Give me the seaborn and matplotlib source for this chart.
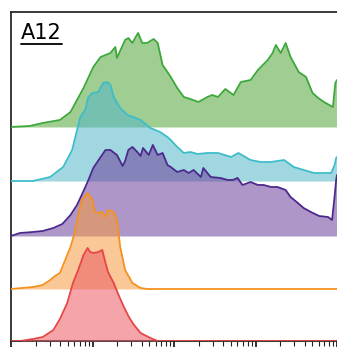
import matplotlib
matplotlib.use("Agg")
import numpy as np
import pandas as pd
import matplotlib.pyplot as plt
from matplotlib.lines import Line2D
from matplotlib.ticker import LogLocator, NullFormatter
import seaborn as sns

sns.set_theme(style="white")
plt.rcParams["font.family"] = ["DejaVu Sans"]

panel_title = "A12"
sample_names = ["S1", "S2", "S3", "S4", "S5"]

# log10 fluorescence positions and mode-normalised counts for each sample
s1_log = [1.00, 1.23, 1.39, 1.60, 1.73, 1.89, 2.01, 2.10, 2.22, 2.28, 2.30, 2.40, 2.44,
          2.49, 2.53, 2.56, 2.61, 2.67, 2.75, 2.80, 2.86, 2.92, 2.96, 3.04, 3.12, 3.20,
          3.30, 3.41, 3.47, 3.54, 3.63, 3.73, 3.82, 3.94, 4.03, 4.15, 4.21, 4.25, 4.31,
          4.37, 4.43, 4.53, 4.62, 4.70, 4.77, 4.84, 4.95, 4.98, 5.00]
s1_count = [0, 1, 4, 7, 15, 39, 60, 70, 74, 80, 69, 87, 89,
            84, 90, 94, 84, 84, 88, 84, 62, 55, 50, 39, 30, 28,
            25, 30, 32, 30, 38, 32, 45, 47, 57, 67, 74, 82, 74,
            84, 70, 55, 50, 34, 29, 25, 20, 44, 47]

s2_log = [1.00, 1.27, 1.48, 1.64, 1.75, 1.79, 1.85, 1.91, 1.95, 2.00, 2.07, 2.13, 2.18,
          2.22, 2.26, 2.34, 2.43, 2.53, 2.59, 2.71, 2.83, 2.92, 2.96, 3.04, 3.12, 3.20,
          3.29, 3.41, 3.54, 3.70, 3.79, 3.94, 4.06, 4.19, 4.35, 4.47, 4.59, 4.72, 4.84,
          4.93, 4.97, 4.99, 5.00]
s2_count = [0, 0, 4, 14, 31, 44, 64, 71, 84, 88, 89, 98, 99,
            96, 84, 73, 66, 63, 61, 53, 49, 44, 41, 34, 28, 29,
            27, 28, 28, 24, 28, 21, 19, 19, 21, 14, 11, 8, 8,
            8, 16, 23, 24]

s3_log = [1.00, 1.11, 1.27, 1.39, 1.52, 1.63, 1.73, 1.81, 1.89, 1.95, 2.01, 2.10, 2.16,
          2.22, 2.30, 2.37, 2.40, 2.44, 2.49, 2.55, 2.59, 2.62, 2.69, 2.74, 2.80, 2.86,
          2.92, 2.96, 3.04, 3.12, 3.18, 3.24, 3.33, 3.36, 3.45, 3.57, 3.66, 3.72, 3.78,
          3.84, 3.94, 4.03, 4.10, 4.19, 4.27, 4.37, 4.43, 4.52, 4.59, 4.68, 4.78, 4.89,
          4.94, 4.97, 4.99, 5.00]
s3_count = [0, 3, 4, 5, 8, 12, 21, 31, 45, 56, 68, 79, 86,
            86, 81, 70, 75, 86, 89, 84, 80, 88, 81, 91, 81, 83,
            71, 69, 64, 66, 63, 66, 59, 68, 59, 58, 56, 56, 58,
            51, 54, 51, 51, 49, 49, 46, 39, 33, 28, 24, 20, 19,
            16, 39, 56, 61]

s4_log = [1.00, 1.27, 1.39, 1.48, 1.54, 1.60, 1.66, 1.73, 1.78, 1.81, 1.87, 1.94, 2.00,
          2.03, 2.07, 2.12, 2.16, 2.19, 2.26, 2.30, 2.34, 2.40, 2.49, 2.59, 2.67, 5.00]
s4_count = [0, 2, 4, 9, 13, 16, 28, 42, 56, 69, 89, 96, 89,
            77, 76, 77, 72, 79, 77, 69, 42, 19, 6, 1, 0, 0]

s5_log = [1.00, 1.11, 1.27, 1.39, 1.52, 1.60, 1.69, 1.76, 1.82, 1.89, 1.94, 1.97, 2.02,
          2.07, 2.12, 2.16, 2.19, 2.26, 2.32, 2.38, 2.44, 2.50, 2.59, 2.71, 2.80, 5.00]
s5_count = [0, 0, 2, 4, 11, 22, 38, 58, 70, 86, 93, 89, 88,
            89, 91, 78, 69, 58, 46, 35, 25, 17, 8, 3, 0, 0]

series = [(s1_log, s1_count), (s2_log, s2_count), (s3_log, s3_count),
          (s4_log, s4_count), (s5_log, s5_count)]

# drawing styles, top ridge first
line_colors = ["#3CA83C", "#3DBDC9", "#4B288C", "#F5911E", "#E64646"]
fill_colors = ["#52A437", "#52B6C8", "#6D409B", "#F69B40", "#ED5B64"]
fill_alpha = 0.55
ridge_bases = [214, 160, 105, 52, 0]  # vertical baseline of each ridge

frames = []
for name, (lg, cnt), base in zip(sample_names, series, ridge_bases):
    frames.append(pd.DataFrame({
        "sample": name,
        "intensity": np.power(10.0, lg),
        "count": cnt,
        "base": base,
        "ridge": base + np.asarray(cnt, dtype=float),
    }))
df = pd.concat(frames, ignore_index=True)

W, H = 337, 347
fig = plt.figure(figsize=(W / 100, H / 100), dpi=100)
ax = fig.add_axes([11 / W, 1 - 341 / H, 1 - 11 / W, (341 - 12) / H])

for i, name in enumerate(sample_names):
    d = df[df["sample"] == name]
    z = 2 + 2 * i
    ax.fill_between(d["intensity"], d["base"], d["ridge"], color=fill_colors[i],
                    alpha=fill_alpha, lw=0, zorder=z)
    sns.lineplot(data=d, x="intensity", y="ridge", ax=ax, color=line_colors[i],
                 lw=1.3, sort=False, estimator=None, zorder=z + 1, legend=False)

ax.set_xscale("log")
ax.set_xlim(1e1, 1e5)
ax.set_ylim(0, 329)
ax.set_xlabel("")
ax.set_ylabel("")
ax.set_yticks([])
ax.xaxis.set_major_locator(LogLocator(base=10, numticks=10))
ax.xaxis.set_minor_locator(LogLocator(base=10, subs=np.arange(2, 10), numticks=100))
ax.xaxis.set_major_formatter(NullFormatter())
ax.xaxis.set_minor_formatter(NullFormatter())
ax.tick_params(axis="x", which="major", direction="out", length=4.5, width=1.3,
               color="#222222", bottom=True)
ax.tick_params(axis="x", which="minor", direction="out", length=3.5, width=0.8,
               color="#222222", bottom=True)
for side in ["left", "bottom", "top"]:
    ax.spines[side].set_visible(True)
    ax.spines[side].set_color("#2a2a2a")
    ax.spines[side].set_linewidth(1.3)
ax.spines["right"].set_visible(False)

title = fig.text(21 / W, 1 - 39 / H, panel_title, fontsize=15, color="black",
                 ha="left", va="baseline")
fig.canvas.draw()
bb = title.get_window_extent().transformed(fig.transFigure.inverted())
fig.add_artist(Line2D([bb.x0, bb.x1], [1 - 43.5 / H] * 2, color="black", lw=1.3,
                      transform=fig.transFigure))

fig.savefig("out.png", dpi=100)
